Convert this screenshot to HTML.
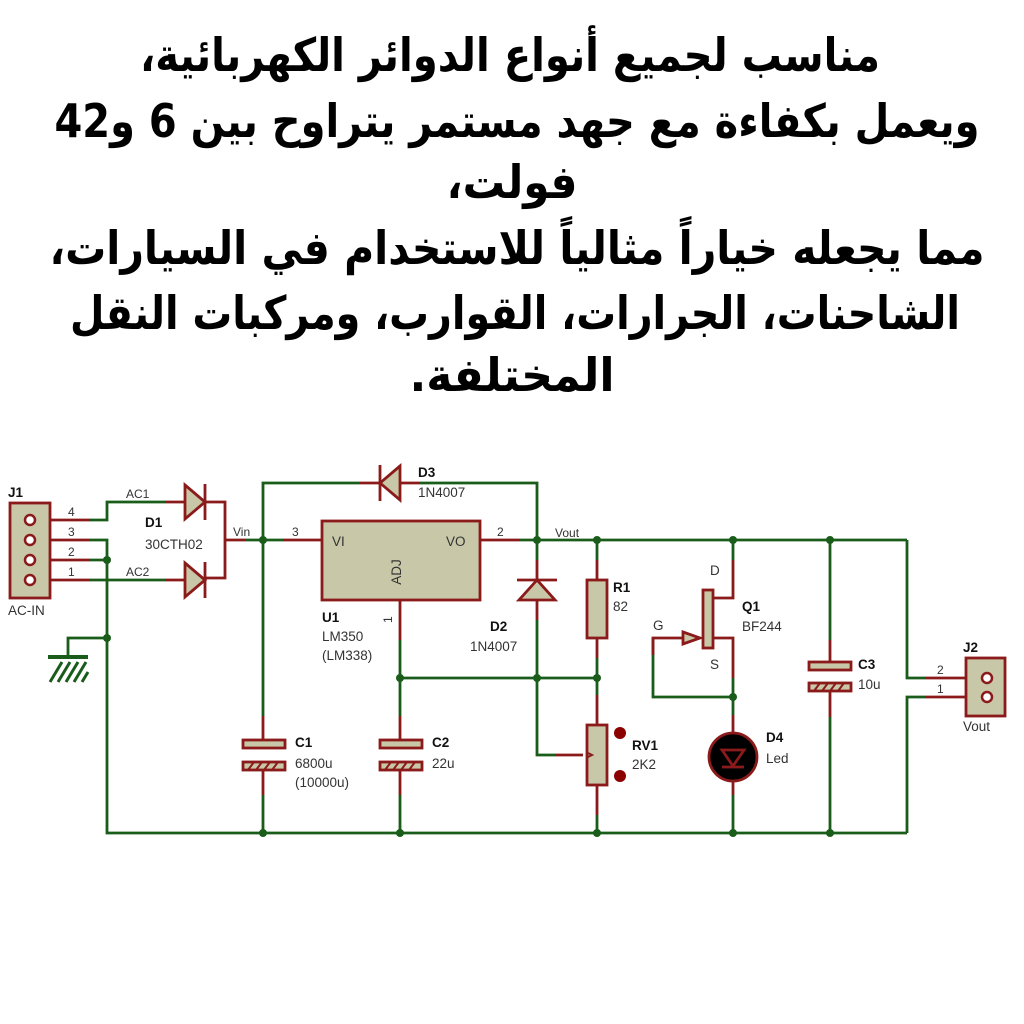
<!DOCTYPE html>
<html><head><meta charset="utf-8"><style>
html,body{margin:0;padding:0;background:#fff;width:1024px;height:1024px;overflow:hidden}
svg{display:block}
.t{font-family:"DejaVu Sans","Liberation Sans",sans-serif;font-weight:bold;font-size:46px;fill:#000}
.l{font-family:"Liberation Sans",sans-serif;font-size:13.5px;fill:#333}
.b{font-family:"Liberation Sans",sans-serif;font-size:13.5px;font-weight:bold;fill:#111}
.s{font-family:"Liberation Sans",sans-serif;font-size:12px;fill:#333}
</style></head><body>
<svg width="1024" height="1024" viewBox="0 0 1024 1024" xmlns="http://www.w3.org/2000/svg">
<g class="t" text-anchor="middle" direction="rtl">
<text x="510" y="71" textLength="740" lengthAdjust="spacingAndGlyphs">مناسب لجميع أنواع الدوائر الكهربائية،</text>
<text x="517" y="137" textLength="925" lengthAdjust="spacingAndGlyphs">ويعمل بكفاءة مع جهد مستمر يتراوح بين 6 و42</text>
<text x="512" y="198" textLength="131" lengthAdjust="spacingAndGlyphs">فولت،</text>
<text x="517" y="264" textLength="935" lengthAdjust="spacingAndGlyphs">مما يجعله خياراً مثالياً للاستخدام في السيارات،</text>
<text x="515" y="329" textLength="890" lengthAdjust="spacingAndGlyphs">الشاحنات، الجرارات، القوارب، ومركبات النقل</text>
<text x="512" y="391" textLength="205" lengthAdjust="spacingAndGlyphs">المختلفة.</text>
</g>
<g fill="none" stroke="#1a5c1a" stroke-width="2.8">
<polyline points="90,520 107,520 107,502 165,502"/>
<polyline points="90,540 107,540 107,833 907,833"/>
<line x1="90" y1="560" x2="107" y2="560"/>
<line x1="90" y1="580" x2="165" y2="580"/>
<polyline points="68,655 68,638 107,638"/>
<line x1="245" y1="540" x2="283" y2="540"/>
<polyline points="263,716 263,483 360,483"/>
<polyline points="420,483 537,483 537,560"/>
<line x1="520" y1="540" x2="907" y2="540"/>
<line x1="263" y1="795" x2="263" y2="833"/>
<line x1="400" y1="640" x2="400" y2="716"/>
<line x1="400" y1="795" x2="400" y2="833"/>
<line x1="400" y1="678" x2="597" y2="678"/>
<polyline points="537,620 537,755 555,755"/>
<line x1="597" y1="540" x2="597" y2="560"/>
<line x1="597" y1="658" x2="597" y2="695"/>
<line x1="597" y1="815" x2="597" y2="833"/>
<polyline points="653,655 653,638 653,697 733,697 733,678"/>
<line x1="733" y1="540" x2="733" y2="560"/>
<line x1="733" y1="697" x2="733" y2="715"/>
<line x1="733" y1="795" x2="733" y2="833"/>
<line x1="830" y1="540" x2="830" y2="640"/>
<line x1="830" y1="717" x2="830" y2="833"/>
<polyline points="907,540 907,678 925,678"/>
<polyline points="925,697 907,697 907,833"/>
</g>
<g fill="none" stroke="#8b1a1a" stroke-width="2.8">
<line x1="30" y1="520" x2="90" y2="520"/><line x1="30" y1="540" x2="90" y2="540"/>
<line x1="30" y1="560" x2="90" y2="560"/><line x1="30" y1="580" x2="90" y2="580"/>
<line x1="165" y1="502" x2="185" y2="502"/><line x1="165" y1="580" x2="185" y2="580"/>
<polyline points="205,502 225,502 225,578 205,578"/>
<line x1="225" y1="540" x2="245" y2="540"/>
<line x1="283" y1="540" x2="322" y2="540"/>
<line x1="480" y1="540" x2="520" y2="540"/>
<line x1="400" y1="600" x2="400" y2="640"/>
<line x1="360" y1="483" x2="380" y2="483"/><line x1="400" y1="483" x2="420" y2="483"/>
<line x1="263" y1="716" x2="263" y2="740"/><line x1="263" y1="770" x2="263" y2="795"/>
<line x1="400" y1="716" x2="400" y2="740"/><line x1="400" y1="770" x2="400" y2="795"/>
<line x1="537" y1="560" x2="537" y2="620"/>
<line x1="597" y1="560" x2="597" y2="580"/><line x1="597" y1="638" x2="597" y2="658"/>
<line x1="597" y1="695" x2="597" y2="725"/><line x1="597" y1="785" x2="597" y2="815"/>
<line x1="555" y1="755" x2="583" y2="755"/>
<polyline points="733,560 733,598 713,598"/>
<polyline points="713,638 733,638 733,678"/>
<polyline points="653,655 653,638 683,638"/>
<line x1="733" y1="715" x2="733" y2="795"/>
<line x1="830" y1="640" x2="830" y2="662"/><line x1="830" y1="692" x2="830" y2="717"/>
<line x1="925" y1="678" x2="985" y2="678"/><line x1="925" y1="697" x2="985" y2="697"/>
</g>
<g stroke="#8b1a1a" stroke-width="2.8" fill="#c8c8a8">
<rect x="10" y="503" width="40" height="95"/>
<rect x="966" y="658" width="39" height="58"/>
<rect x="322" y="521" width="158" height="79"/>
<polygon points="185,485 205,502 185,519"/><line x1="205" y1="484" x2="205" y2="520"/>
<polygon points="185,563 205,580 185,597"/><line x1="205" y1="562" x2="205" y2="598"/>
<polygon points="400,466 380,483 400,500"/><line x1="380" y1="465" x2="380" y2="501"/>
<polygon points="537,580 519,600 555,600"/><line x1="517" y1="580" x2="557" y2="580"/>
<rect x="587" y="580" width="20" height="58"/>
<rect x="587" y="725" width="20" height="60"/>
<rect x="703" y="590" width="10" height="58"/>
<polygon points="683,632 700,638 683,644"/>
<rect x="243" y="740" width="42" height="8"/>
<rect x="243" y="762" width="42" height="8"/>
<rect x="380" y="740" width="42" height="8"/>
<rect x="380" y="762" width="42" height="8"/>
<rect x="809" y="662" width="42" height="8"/>
<rect x="809" y="683" width="42" height="8"/>
<circle cx="733" cy="757" r="24" fill="#000"/>
<polygon points="722,750 744,750 733,766" fill="none"/><line x1="722" y1="767" x2="744" y2="767"/>
</g>
<g stroke="#8b1a1a" stroke-width="2" fill="none">
<path d="M588,753 l4,2 l-4,2"/>
<path d="M248,770 l6,-8 M256,770 l6,-8 M264,770 l6,-8 M272,770 l6,-8 M385,770 l6,-8 M393,770 l6,-8 M401,770 l6,-8 M409,770 l6,-8 M814,691 l6,-8 M822,691 l6,-8 M830,691 l6,-8 M838,691 l6,-8"/>
</g>
<g fill="#fff" stroke="#8b1a1a" stroke-width="2.5">
<circle cx="30" cy="520" r="5"/><circle cx="30" cy="540" r="5"/><circle cx="30" cy="560" r="5"/><circle cx="30" cy="580" r="5"/>
<circle cx="987" cy="678" r="5"/><circle cx="987" cy="697" r="5"/>
</g>
<g fill="#8b0000"><circle cx="620" cy="733" r="6"/><circle cx="620" cy="776" r="6"/></g>
<g fill="#1a5c1a">
<circle cx="107" cy="560" r="4"/><circle cx="107" cy="638" r="4"/><circle cx="263" cy="540" r="4"/>
<circle cx="263" cy="833" r="4"/><circle cx="400" cy="678" r="4"/><circle cx="400" cy="833" r="4"/>
<circle cx="537" cy="540" r="4"/><circle cx="537" cy="678" r="4"/><circle cx="597" cy="540" r="4"/>
<circle cx="597" cy="678" r="4"/><circle cx="597" cy="833" r="4"/><circle cx="733" cy="540" r="4"/>
<circle cx="733" cy="697" r="4"/><circle cx="733" cy="833" r="4"/><circle cx="830" cy="540" r="4"/><circle cx="830" cy="833" r="4"/>
<rect x="48" y="655" width="40" height="4"/>
</g>
<g stroke="#1a5c1a" stroke-width="3">
<path d="M50,682 l12,-20 M58,682 l12,-20 M66,682 l12,-20 M74,682 l12,-20 M82,682 l6,-10"/>
</g>
<g class="b"><text x="8" y="497">J1</text><text x="145" y="527">D1</text><text x="418" y="477">D3</text>
<text x="322" y="622">U1</text><text x="490" y="631">D2</text><text x="613" y="592">R1</text>
<text x="632" y="750">RV1</text><text x="742" y="611">Q1</text><text x="766" y="742">D4</text>
<text x="858" y="669">C3</text><text x="963" y="652">J2</text><text x="295" y="747">C1</text><text x="432" y="747">C2</text></g>
<g class="l"><text x="145" y="549">30CTH02</text><text x="418" y="497">1N4007</text>
<text x="322" y="641">LM350</text><text x="322" y="660">(LM338)</text><text x="470" y="651">1N4007</text>
<text x="613" y="611">82</text><text x="632" y="769">2K2</text><text x="742" y="631">BF244</text>
<text x="766" y="763">Led</text><text x="858" y="689">10u</text><text x="963" y="731">Vout</text>
<text x="295" y="768">6800u</text><text x="295" y="787">(10000u)</text><text x="432" y="768">22u</text>
<text x="8" y="615">AC-IN</text><text x="332" y="546">VI</text><text x="446" y="546">VO</text>
<text x="710" y="575">D</text><text x="653" y="630">G</text><text x="710" y="669">S</text>
<text x="406" y="572" transform="rotate(-90 406 572)" text-anchor="middle" dy="-5">ADJ</text></g>
<g class="s"><text x="68" y="516">4</text><text x="68" y="536">3</text><text x="68" y="556">2</text><text x="68" y="576">1</text>
<text x="126" y="498">AC1</text><text x="126" y="576">AC2</text><text x="233" y="536">Vin</text>
<text x="292" y="536">3</text><text x="497" y="536">2</text><text x="555" y="537">Vout</text>
<text x="392" y="623" transform="rotate(-90 392 623)">1</text>
<text x="937" y="674">2</text><text x="937" y="693">1</text></g>
</svg>
</body></html>
